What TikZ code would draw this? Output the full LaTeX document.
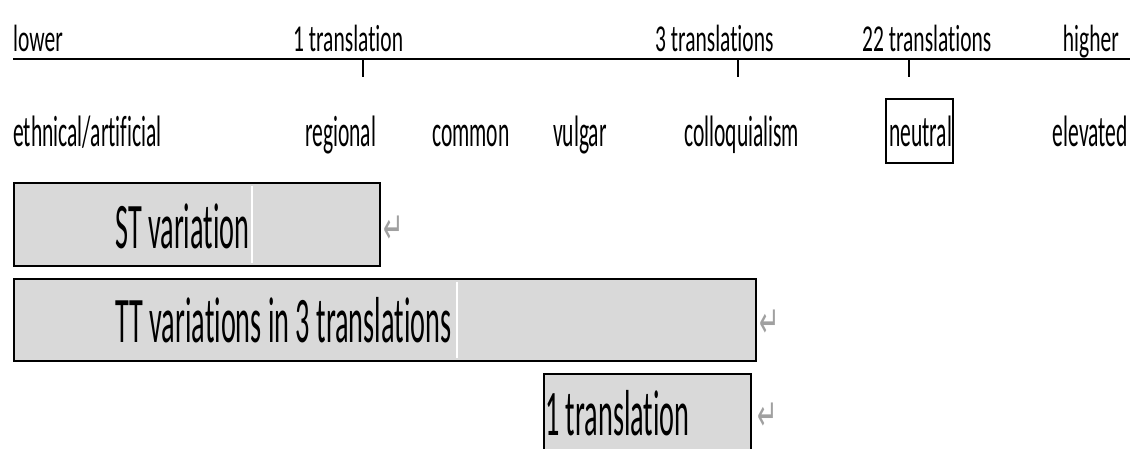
\documentclass[tikz,border=0pt]{standalone}
\usepackage{fontspec}
\setmainfont{Carlito}
% condensed Calibri-like faces for the scale labels and the bars
\newfontfamily\toplab[FakeStretch=0.566,Ligatures=NoCommon]{Carlito}
\newfontfamily\reglab[FakeStretch=0.49,Ligatures=NoCommon]{Carlito}
\newfontfamily\barlab[FakeStretch=0.435,Ligatures=NoCommon]{Carlito}
\newfontfamily\marksym[FakeStretch=0.55]{DejaVu Sans}
\definecolor{barfill}{HTML}{D9D9D9}
\definecolor{markgray}{HTML}{A0A0A0}

\begin{document}
\begin{tikzpicture}[x=1pt,y=-1pt,
  toptext/.style={inner sep=0pt, anchor=base west, font={\fontsize{38}{40}\selectfont\toplab}},
  regtext/.style={inner sep=0pt, anchor=base west, font={\fontsize{44}{46}\selectfont\reglab}},
  bartext/.style={inner sep=0pt, anchor=base west, text depth=0pt, font={\fontsize{65}{68}\selectfont\barlab}},
  bar/.style={draw=black, fill=barfill, line width=2.6pt},
  gapline/.style={draw=white, line width=1.2pt},
  tick/.style={draw=black, line width=1.2pt},
  retmark/.style={inner sep=0pt, anchor=base west, text=markgray, font={\fontsize{44}{46}\selectfont\marksym}}
]
\useasboundingbox (0,0) rectangle (1130,448);

% scale axis
\coordinate (axL) at (13,59);
\coordinate (axR) at (1135,59);
\draw[line width=2.8pt] (axL) -- (axR);

% labels above the axis
\node[toptext] (lower) at (13,51) {lower};
\node[toptext] (t1) at (293,51) {1 translation};
\node[toptext] (t3) at (655,51) {3 translations};
\node[toptext] (t22) at (862,51) {22 translations};
\node[toptext, anchor=base east] (higher) at (1119,51) {higher};

% ticks under the axis
\foreach \n/\x in {k1/363, k3/738, k22/909} {
  \coordinate (\n a) at (\x,60);
  \coordinate (\n b) at (\x,77);
  \draw[tick] (\n a) -- (\n b);
}

% register levels
\node[regtext] (ethn) at (13,146) {ethnical/artificial};
\node[regtext] (regi) at (305,146) {regional};
\node[regtext] (comm) at (432,146) {common};
\node[regtext] (vulg) at (553,146) {vulgar};
\node[regtext] (coll) at (684,146) {colloquialism};
\node[regtext] (neut) at (889,146) {neutral};
\node[regtext, anchor=base east] (elev) at (1128,146) {elevated};
\draw[line width=2pt] (886,99) rectangle (953,163);

% source-text bar
\path[bar] (14,183) rectangle (380,266);
\node[bartext] (st) at (115,248) {ST variation};
\draw[gapline] (252,186) -- (252,263);
\node[retmark] (r1) at (383,243) {↵};

% target-text bar
\path[bar] (14,279) rectangle (756,361);
\node[bartext] (tt) at (115,342) {TT variations in 3 translations};
\draw[gapline] (457,282) -- (457,358);
\node[retmark] (r2) at (759,337) {↵};

% single translation bar
\path[bar] (544,374) rectangle (751,460);
\node[bartext] (one) at (545,435) {1 translation};
\node[retmark] (r3) at (757,430) {↵};
\end{tikzpicture}
\end{document}
